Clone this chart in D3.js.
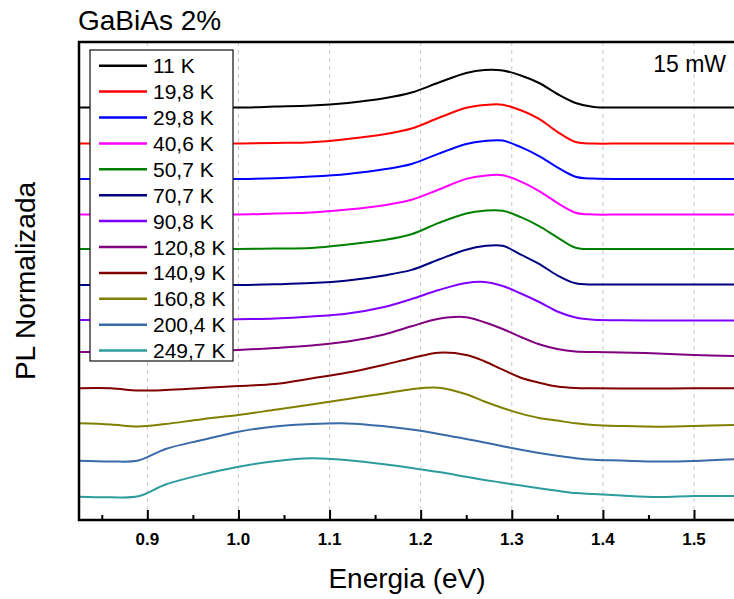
<!DOCTYPE html>
<html>
<head>
<meta charset="utf-8">
<script src="https://cdn.jsdelivr.net/npm/d3@7"></script>
<style>
  html, body { margin: 0; padding: 0; background: #fff; }
  svg { display: block; font-family: "Liberation Sans", Arial, sans-serif; }
</style>
</head>
<body>
<svg id="chart" width="734" height="599"></svg>
<script>
// ---- data (PL normalized, stacked with offset, a.u.) ----
const energy = [0.825, 0.86, 0.89, 0.92, 0.96, 1.00, 1.04, 1.08, 1.12, 1.16, 1.19, 1.22, 1.25, 1.27, 1.29, 1.31, 1.33, 1.35, 1.37, 1.39, 1.42, 1.46, 1.50, 1.545];

const temperatures = ["11 K", "19,8 K", "29,8 K", "40,6 K", "50,7 K", "70,7 K", "90,8 K", "120,8 K", "140,9 K", "160,8 K", "200,4 K", "249,7 K"];
const colors = ["#000000", "#ff0000", "#0000ff", "#ff00ff", "#008000", "#000080", "#8000ff", "#800080", "#800000", "#808000", "#3a6aa8", "#2e9c9c"];

const pl11  = [4.125,4.125,4.125,4.125,4.125,4.125,4.134,4.144,4.171,4.217,4.275,4.375,4.47,4.50,4.495,4.445,4.37,4.26,4.17,4.13,4.125,4.125,4.125,4.125];
const pl19  = [3.765,3.765,3.765,3.765,3.765,3.765,3.77,3.778,3.811,3.857,3.915,4.022,4.122,4.15,4.153,4.097,4.012,3.882,3.78,3.765,3.765,3.765,3.765,3.765];
const pl29  = [3.41,3.41,3.41,3.41,3.41,3.41,3.417,3.434,3.461,3.507,3.56,3.664,3.76,3.79,3.794,3.728,3.639,3.527,3.433,3.414,3.41,3.41,3.41,3.41];
const pl40  = [3.055,3.055,3.055,3.055,3.055,3.055,3.065,3.074,3.104,3.148,3.202,3.305,3.411,3.443,3.448,3.384,3.289,3.172,3.073,3.055,3.055,3.055,3.055,3.055];
const pl50  = [2.71,2.71,2.71,2.71,2.71,2.71,2.715,2.721,2.755,2.80,2.858,2.971,3.065,3.093,3.093,3.028,2.939,2.827,2.723,2.71,2.71,2.71,2.71,2.71];
const pl70  = [2.35,2.35,2.35,2.35,2.35,2.35,2.357,2.369,2.396,2.446,2.501,2.605,2.703,2.74,2.742,2.653,2.562,2.447,2.367,2.355,2.355,2.355,2.355,2.355];
const pl90  = [2.00,2.00,2.00,2.00,2.00,2.007,2.015,2.035,2.065,2.13,2.21,2.30,2.37,2.38,2.34,2.265,2.18,2.085,2.025,2.002,1.998,1.995,1.995,1.995];
const pl120 = [1.68,1.68,1.68,1.685,1.69,1.70,1.72,1.745,1.784,1.855,1.937,2.012,2.028,1.977,1.91,1.83,1.757,1.71,1.685,1.68,1.675,1.665,1.65,1.64];
const pl140 = [1.317,1.317,1.295,1.30,1.32,1.34,1.36,1.415,1.474,1.553,1.618,1.673,1.65,1.588,1.503,1.423,1.373,1.335,1.32,1.317,1.315,1.315,1.317,1.317];
const pl160 = [0.967,0.955,0.935,0.96,1.008,1.05,1.102,1.155,1.211,1.265,1.308,1.322,1.257,1.185,1.12,1.064,1.02,0.994,0.967,0.95,0.94,0.933,0.94,0.95];
const pl200 = [0.593,0.585,0.595,0.71,0.80,0.883,0.935,0.96,0.966,0.938,0.905,0.861,0.81,0.775,0.738,0.703,0.671,0.642,0.617,0.602,0.595,0.585,0.59,0.607];
const pl249 = [0.233,0.227,0.237,0.355,0.454,0.533,0.588,0.617,0.598,0.557,0.52,0.479,0.432,0.401,0.373,0.345,0.318,0.292,0.269,0.26,0.245,0.23,0.24,0.24];

const seriesValues = [pl11, pl19, pl29, pl40, pl50, pl70, pl90, pl120, pl140, pl160, pl200, pl249];
const xTicksMajor = [0.9, 1.0, 1.1, 1.2, 1.3, 1.4, 1.5];
const xTicksMinor = [0.85, 0.95, 1.05, 1.15, 1.25, 1.35, 1.45];

// ---- layout ----
const svg = d3.select("#chart");
const mLeft = 79, mRight = 735, mTop = 42, mBottom = 520;

const x = d3.scaleLinear().domain([0.825, 1.545]).range([mLeft, mRight]);
const y = d3.scaleLinear().domain([0, 4.78]).range([mBottom, mTop]);

// grid
svg.append("g").selectAll("line").data(xTicksMajor).join("line")
  .attr("x1", d => x(d)).attr("x2", d => x(d))
  .attr("y1", mTop).attr("y2", mBottom)
  .attr("stroke", "#c8c8c8").attr("stroke-width", 1)
  .attr("stroke-dasharray", "4,4");

// curves
const line = d3.line()
  .x((d, i) => x(energy[i]))
  .y(d => y(d))
  .curve(d3.curveCatmullRom.alpha(0.5));

const plot = svg.append("g");
plot.selectAll("path").data(seriesValues).join("path")
  .attr("d", d => line(d))
  .attr("fill", "none")
  .attr("stroke", (d, i) => colors[i])
  .attr("stroke-width", 2)
  .attr("stroke-linejoin", "round");

// x axis (inward ticks)
const xAxis = d3.axisTop(x).tickValues(xTicksMajor).tickSize(10).tickFormat("");
const gx = svg.append("g").attr("transform", `translate(0,${mBottom})`).call(xAxis);
gx.select(".domain").remove();
gx.selectAll(".tick line").attr("stroke", "#000").attr("stroke-width", 2);

const xMinor = d3.axisTop(x).tickValues(xTicksMinor).tickSize(5).tickFormat("");
const gxm = svg.append("g").attr("transform", `translate(0,${mBottom})`).call(xMinor);
gxm.select(".domain").remove();
gxm.selectAll(".tick line").attr("stroke", "#000").attr("stroke-width", 2);

svg.append("g").selectAll("text").data(xTicksMajor).join("text")
  .attr("x", d => x(d)).attr("y", 545)
  .attr("text-anchor", "middle")
  .attr("font-size", 17).attr("font-weight", "bold")
  .text(d3.format(".1f"));

// frame lines
svg.append("line").attr("x1", mLeft - 1).attr("x2", 734).attr("y1", mBottom).attr("y2", mBottom)
  .attr("stroke", "#000").attr("stroke-width", 2.5);
svg.append("line").attr("x1", mLeft).attr("x2", mLeft).attr("y1", mTop - 1).attr("y2", mBottom + 1)
  .attr("stroke", "#000").attr("stroke-width", 2.5);
svg.append("line").attr("x1", mLeft - 1).attr("x2", 734).attr("y1", mTop).attr("y2", mTop)
  .attr("stroke", "#000").attr("stroke-width", 2.5);

// legend
const lg = svg.append("g");
lg.append("rect").attr("x", 90).attr("y", 50).attr("width", 143).attr("height", 311)
  .attr("fill", "#fff").attr("stroke", "#222").attr("stroke-width", 1.3);
const items = lg.selectAll("g.item").data(temperatures).join("g").attr("class", "item")
  .attr("transform", (d, i) => `translate(0,${65.7 + i * 25.9})`);
items.append("line").attr("x1", 99).attr("x2", 147).attr("y1", 0).attr("y2", 0)
  .attr("stroke", (d, i) => colors[i]).attr("stroke-width", 2.5);
items.append("text").attr("x", 153).attr("y", 7.5).attr("font-size", 21).text(d => d);

// texts
svg.append("text").attr("x", 78).attr("y", 30).attr("font-size", 28).text("GaBiAs 2%");
svg.append("text").attr("x", 726).attr("y", 72).attr("text-anchor", "end").attr("font-size", 23).text("15 mW");
svg.append("text").attr("x", 407).attr("y", 588).attr("text-anchor", "middle").attr("font-size", 28).text("Energia (eV)");
svg.append("text").attr("transform", "translate(35,281) rotate(-90)").attr("text-anchor", "middle")
  .attr("font-size", 28).text("PL Normalizada");
</script>
</body>
</html>
